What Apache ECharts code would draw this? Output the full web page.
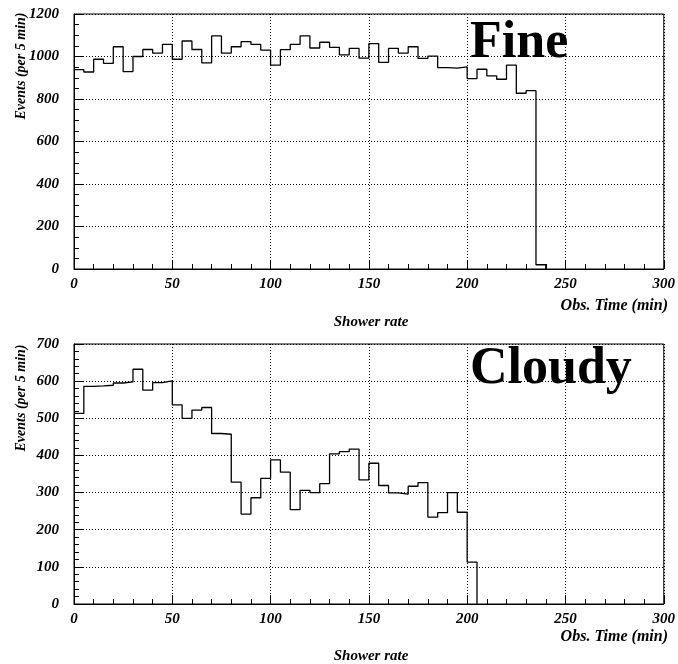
<!DOCTYPE html>
<html>
<head>
<meta charset="utf-8">
<script src="https://cdn.jsdelivr.net/npm/echarts@6/dist/echarts.min.js"></script>
<style>
  html, body { margin: 0; padding: 0; background: #fff; }
  #chart { width: 678px; height: 664px; }
</style>
</head>
<body>
<div id="chart"></div>
<script>
// Bin width of both histograms, in minutes
const binWidth = 5;

// Events per 5-minute bin, clear sky run (bins start at 0 min)
const fineCounts = [
  938, 927, 987, 968, 1046, 929, 1000, 1033, 1016, 1057,
  987, 1073, 1033, 970, 1097, 1016, 1046, 1070, 1057, 1030,
  959, 1032, 1057, 1097, 1040, 1067, 1043, 1008, 1038, 992,
  1061, 972, 1038, 1016, 1046, 991, 1002, 948, 945, 951,
  896, 940, 909, 893, 959, 827, 839, 20
];

// Events per 5-minute bin, cloudy run (bins start at 0 min)
const cloudyCounts = [
  513, 586, 587, 589, 595, 598, 632, 576, 596, 601,
  536, 500, 522, 529, 459, 457, 328, 242, 286, 338,
  388, 355, 254, 306, 300, 324, 404, 410, 417, 334,
  379, 319, 299, 296, 317, 327, 234, 246, 300, 247,
  113
];

const panelTitles = ['Fine', 'Cloudy'];
const xAxisTitle = 'Obs. Time (min)';
const yAxisTitle = 'Events (per 5 min)';
const panelCaption = 'Shower rate';

// Left bin edges with counts, closed by a zero at the last upper edge
function histData(counts) {
  const d = counts.map((v, i) => [i * binWidth, v]);
  d.push([counts.length * binWidth, 0]);
  return d;
}

const FONT = '"Liberation Serif", "DejaVu Serif", serif';
const labelFont = {
  fontFamily: FONT, fontStyle: 'italic', fontWeight: 'bold',
  fontSize: 15, color: '#000'
};

function xAxisFor(gi) {
  return {
    type: 'value', gridIndex: gi, min: 0, max: 300, interval: 50,
    axisLine: { show: true, onZero: false, lineStyle: { color: '#000', width: 1 } },
    axisTick: { show: true, inside: true, length: 9, lineStyle: { color: '#000' } },
    minorTick: { show: true, splitNumber: 5, length: 5, lineStyle: { color: '#000' } },
    splitLine: { show: true, lineStyle: { color: '#000', width: 1, type: [1, 2] } },
    axisLabel: Object.assign({ margin: 8, showMinLabel: true, showMaxLabel: true,
      formatter: v => String(v) }, labelFont)
  };
}

function yAxisFor(gi, max, interval, minorSplit) {
  return {
    type: 'value', gridIndex: gi, min: 0, max: max, interval: interval,
    axisLine: { show: true, lineStyle: { color: '#000', width: 1 } },
    axisTick: { show: true, inside: true, length: 9, lineStyle: { color: '#000' } },
    minorTick: { show: true, splitNumber: minorSplit, length: 5, lineStyle: { color: '#000' } },
    splitLine: { show: true, lineStyle: { color: '#000', width: 1, type: [1, 2] } },
    axisLabel: Object.assign({ margin: 15, showMinLabel: true, showMaxLabel: true,
      formatter: v => String(v) }, labelFont)
  };
}

function histSeries(gi, counts) {
  return {
    type: 'line', xAxisIndex: gi, yAxisIndex: gi,
    step: 'end', symbol: 'none', animation: false,
    lineStyle: { color: '#000', width: 1.3 },
    data: histData(counts)
  };
}

function textEl(text, x, y, opts) {
  return {
    type: 'text', x: x, y: y, rotation: opts.rotation || 0, z: 100,
    style: {
      text: text, fill: '#000',
      font: (opts.italic ? 'italic ' : '') + 'bold ' + opts.size + 'px ' + FONT,
      textAlign: opts.align || 'left',
      textVerticalAlign: opts.valign || 'middle'
    }
  };
}

const chart = echarts.init(document.getElementById('chart'), null, { renderer: 'canvas' });
chart.setOption({
  backgroundColor: '#fff',
  animation: false,
  grid: [
    { left: 74, right: 9, top: 14, height: 255, show: true, borderColor: '#000', borderWidth: 1, backgroundColor: 'transparent' },
    { left: 74, right: 9, top: 344, height: 260, show: true, borderColor: '#000', borderWidth: 1, backgroundColor: 'transparent' }
  ],
  xAxis: [xAxisFor(0), xAxisFor(1)],
  yAxis: [yAxisFor(0, 1200, 200, 4), yAxisFor(1, 700, 100, 5)],
  series: [histSeries(0, fineCounts), histSeries(1, cloudyCounts)],
  graphic: [
    textEl(panelTitles[0], 470, 18, { size: 52, valign: 'top' }),
    textEl(panelTitles[1], 470, 344, { size: 52, valign: 'top' }),
    textEl(xAxisTitle, 668, 306, { size: 16, italic: true, align: 'right' }),
    textEl(xAxisTitle, 668, 637, { size: 16, italic: true, align: 'right' }),
    textEl(panelCaption, 371, 322, { size: 15, italic: true, align: 'center' }),
    textEl(panelCaption, 371, 656, { size: 15, italic: true, align: 'center' }),
    textEl(yAxisTitle, 21, 66, { size: 14, italic: true, align: 'center', rotation: Math.PI / 2 }),
    textEl(yAxisTitle, 21, 398, { size: 14, italic: true, align: 'center', rotation: Math.PI / 2 })
  ]
});
</script>
</body>
</html>
